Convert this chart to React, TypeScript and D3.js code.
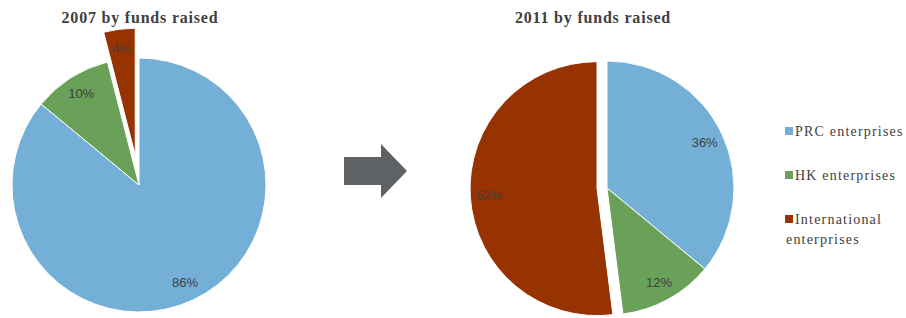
import * as d3 from 'd3'

// Share of funds raised, by type of enterprise
const categories = ['PRC enterprises', 'HK enterprises', 'International enterprises']
const legendLines = [['PRC enterprises'], ['HK enterprises'], ['International', 'enterprises']]
const values2007 = [86, 10, 4]
const values2011 = [36, 12, 52]

const COLORS = ['#74AFD8', '#6AA158', '#963300']
const TEXT = '#404040'
const SERIF = '"Liberation Serif", "Times New Roman", "DejaVu Serif", serif'
const SANS = '"Liberation Sans", Arial, sans-serif'

type PieProps = {
  title: string
  values: number[]
  cx: number
  cy: number
  r: number
  titleX: number
  explode: number[]
}

function Pie({ title, values, cx, cy, r, titleX, explode }: PieProps) {
  const pie = d3.pie<number>().sort(null).value(d => d)
  const arcs = pie(values)
  const arc = d3.arc<d3.PieArcDatum<number>>().innerRadius(0).outerRadius(r)
  const labelArc = d3.arc<d3.PieArcDatum<number>>().innerRadius(r * 0.85).outerRadius(r * 0.85)
  const total = d3.sum(values)

  return (
    <g>
      <text
        x={titleX}
        y={23}
        textAnchor="middle"
        style={{ fontFamily: SERIF, fontWeight: 'bold', fontSize: '16px', letterSpacing: '0.8px' }}
        fill={TEXT}
      >
        {title}
      </text>
      {arcs.map((a, i) => {
        const mid = (a.startAngle + a.endAngle) / 2
        const dx = Math.sin(mid) * explode[i]
        const dy = -Math.cos(mid) * explode[i]
        const [lx, ly] = labelArc.centroid(a)
        return (
          <g key={i} transform={`translate(${cx + dx},${cy + dy})`}>
            <path d={arc(a) || ''} fill={COLORS[i]} stroke="#fff" strokeWidth={1} />
            <text
              x={lx}
              y={ly}
              dy="0.35em"
              textAnchor="middle"
              style={{ fontFamily: SANS, fontSize: '13px' }}
              fill={TEXT}
            >
              {`${Math.round((a.value / total) * 100)}%`}
            </text>
          </g>
        )
      })}
    </g>
  )
}

export default function App() {
  return (
    <div style={{ position: 'absolute', left: 0, top: 0 }}>
      <svg width={906} height={318} style={{ display: 'block', background: '#fff' }}>
        <Pie title="2007 by funds raised" values={values2007} cx={139} cy={185} r={127} titleX={140} explode={[0, 0, 30]} />
        <Pie title="2011 by funds raised" values={values2011} cx={607} cy={188} r={127} titleX={593} explode={[0, 0, 10]} />

        {/* arrow between the two pies */}
        <path d="M344,157 L381,157 L381,144 L407,171 L381,198 L381,185 L344,185 Z" fill="#5F6264" />

        {/* legend */}
        {categories.map((c, i) => {
          const y = [136, 180, 224][i]
          return (
            <g key={c}>
              <rect x={785} y={y - 9} width={8} height={8} fill={COLORS[i]} />
              {legendLines[i].map((line, j) => (
                <text
                  key={j}
                  x={j === 0 ? 795 : 786}
                  y={y + j * 20}
                  style={{ fontFamily: SERIF, fontSize: '14px', letterSpacing: '1.2px' }}
                  fill={TEXT}
                >
                  {line}
                </text>
              ))}
            </g>
          )
        })}
      </svg>
    </div>
  )
}
